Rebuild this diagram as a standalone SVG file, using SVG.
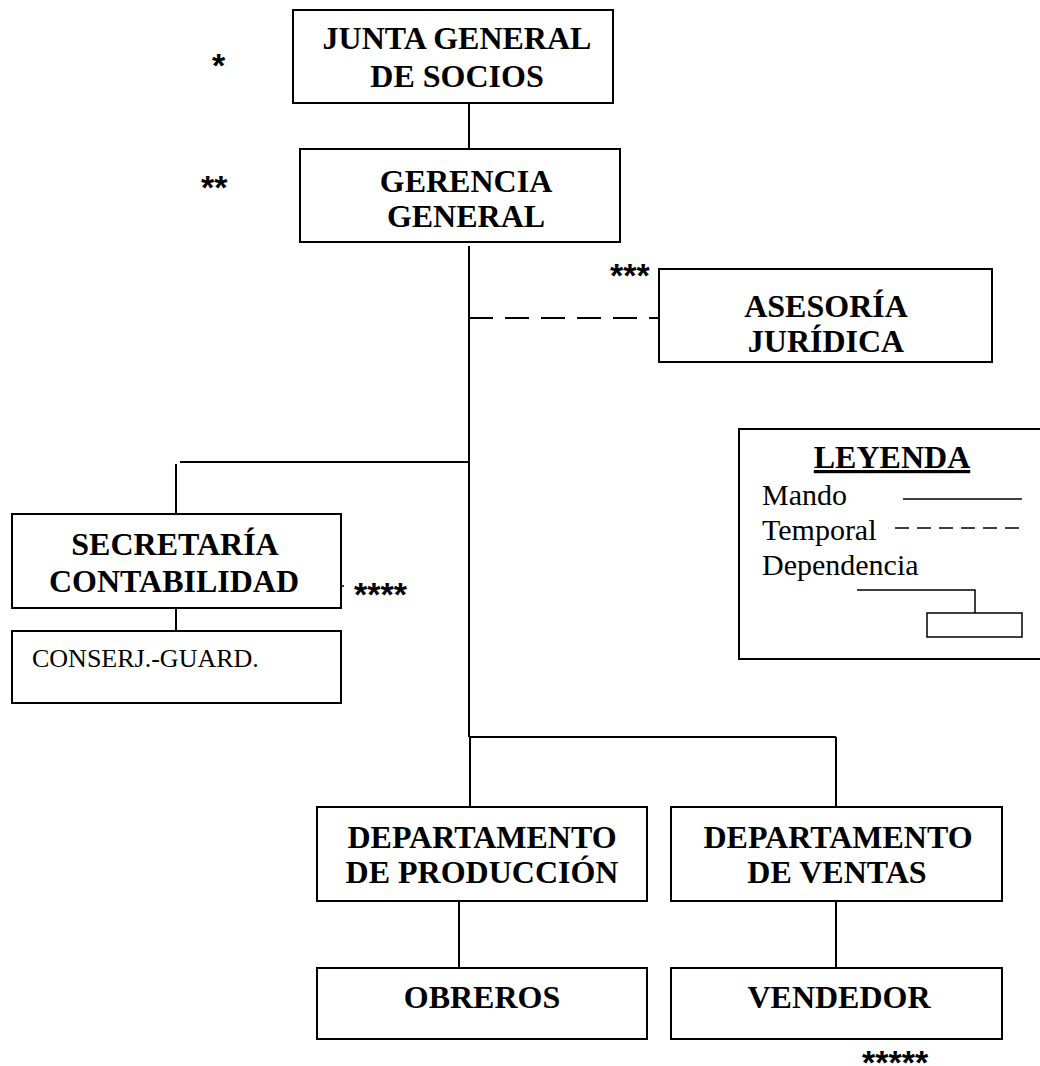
<svg xmlns="http://www.w3.org/2000/svg" width="1040" height="1066" viewBox="0 0 1040 1066">
<style>
.box{fill:#fff;stroke:#000;stroke-width:2}
.t{font-family:"Liberation Serif","Times New Roman",serif;font-weight:bold;font-size:32px;text-anchor:middle;fill:#000}
.r{font-family:"Liberation Serif","Times New Roman",serif;font-size:30px;fill:#000}
.ast{font-family:"Liberation Sans",Arial,sans-serif;font-weight:bold;font-size:34px;fill:#000}
.ln{stroke:#000;stroke-width:2;fill:none}
.thin{stroke:#000;stroke-width:1.5;fill:none}
</style>
<rect width="1040" height="1066" fill="#fff"/>
<g id="connectors">
<line class="ln" x1="469" y1="103" x2="469" y2="149"/>
<line class="ln" x1="469" y1="246" x2="469" y2="737"/>
<line class="ln" x1="469" y1="318" x2="659" y2="318" stroke-dasharray="24 12"/>
<line class="ln" x1="180" y1="462" x2="469" y2="462"/>
<line class="ln" x1="176" y1="464" x2="176" y2="514"/>
<line class="ln" x1="176" y1="608" x2="176" y2="631"/>
<line class="thin" x1="341" y1="586" x2="344" y2="586"/>
<line class="ln" x1="469" y1="737" x2="836" y2="737"/>
<line class="ln" x1="470" y1="737" x2="470" y2="807"/>
<line class="ln" x1="836" y1="737" x2="836" y2="807"/>
<line class="ln" x1="459" y1="901" x2="459" y2="968"/>
<line class="ln" x1="836" y1="901" x2="836" y2="968"/>
</g>
<g id="junta">
<rect class="box" x="293" y="10" width="320" height="93"/>
<text class="t" x="457" y="49">JUNTA GENERAL</text>
<text class="t" x="457" y="87">DE SOCIOS</text>
</g>
<g id="gerencia">
<rect class="box" x="300" y="149" width="320" height="93"/>
<text class="t" x="466" y="192">GERENCIA</text>
<text class="t" x="466" y="227">GENERAL</text>
</g>
<g id="asesoria">
<rect class="box" x="659" y="269" width="333" height="93"/>
<text class="t" x="826" y="317">ASESORÍA</text>
<text class="t" x="826" y="352">JURÍDICA</text>
</g>
<g id="secretaria">
<rect class="box" x="12" y="514" width="329" height="94"/>
<text class="t" x="175" y="555">SECRETARÍA</text>
<text class="t" x="174" y="592">CONTABILIDAD</text>
</g>
<g id="conserje">
<rect class="box" x="12" y="631" width="329" height="72"/>
<text class="r" x="32" y="667" style="font-size:26px">CONSERJ.-GUARD.</text>
</g>
<g id="dep-produccion">
<rect class="box" x="317" y="807" width="330" height="94"/>
<text class="t" x="482" y="848">DEPARTAMENTO</text>
<text class="t" x="482" y="883">DE PRODUCCIÓN</text>
</g>
<g id="dep-ventas">
<rect class="box" x="671" y="807" width="331" height="94"/>
<text class="t" x="838" y="848">DEPARTAMENTO</text>
<text class="t" x="837" y="883">DE VENTAS</text>
</g>
<g id="obreros">
<rect class="box" x="317" y="968" width="330" height="71"/>
<text class="t" x="482" y="1008">OBREROS</text>
</g>
<g id="vendedor">
<rect class="box" x="671" y="968" width="331" height="71"/>
<text class="t" x="839" y="1008">VENDEDOR</text>
</g>
<g id="leyenda">
<rect class="box" x="739" y="429" width="310" height="230"/>
<text class="t" x="892" y="468" text-decoration="underline">LEYENDA</text>
<text class="r" x="762" y="505">Mando</text>
<text class="r" x="762" y="540">Temporal</text>
<text class="r" x="762" y="575">Dependencia</text>
<line class="thin" x1="903" y1="499" x2="1022" y2="499"/>
<line class="thin" x1="895" y1="528" x2="1022" y2="528" stroke-dasharray="14 8"/>
<polyline class="thin" points="857,590 975,590 975,613"/>
<rect x="927" y="613" width="95" height="24" fill="#fff" stroke="#000" stroke-width="1.5"/>
</g>
<g id="asteriscos">
<text class="ast" x="212" y="77">*</text>
<text class="ast" x="201" y="199">**</text>
<text class="ast" x="610" y="287">***</text>
<text class="ast" x="354" y="606">****</text>
<text class="ast" x="862" y="1074">*****</text>
</g>
</svg>
